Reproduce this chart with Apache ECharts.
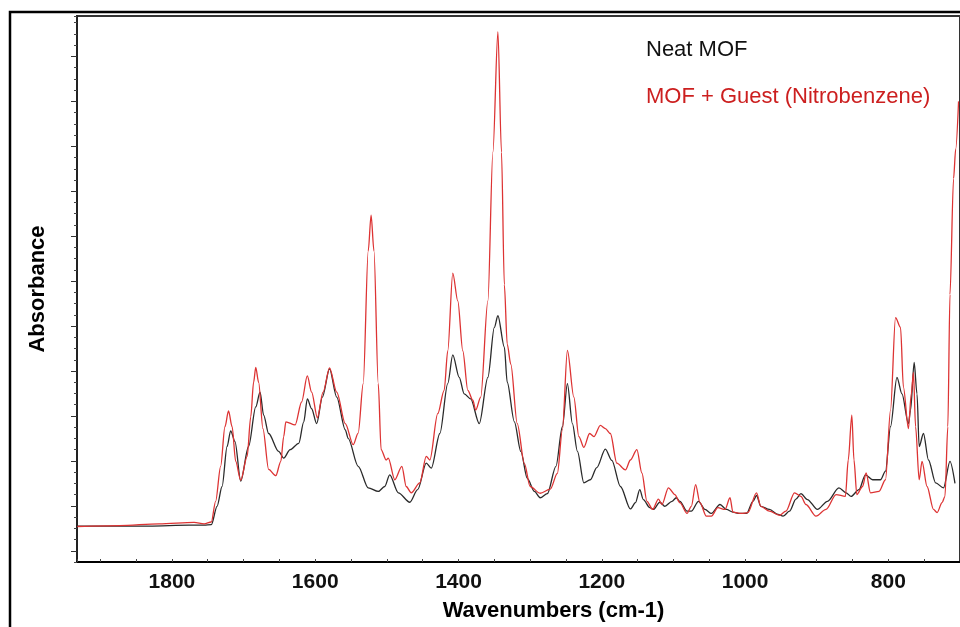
<!DOCTYPE html>
<html>
<head>
<meta charset="utf-8">
<script src="https://cdn.jsdelivr.net/npm/echarts@6/dist/echarts.min.js"></script>
<style>html,body{margin:0;padding:0;background:#fff;}#chart{width:960px;height:627px;}</style>
</head>
<body>
<div id="chart"></div>
<script>
// ---- data (wavenumber cm-1, absorbance arbitrary units) ----
var neatWn = [1932,1901,1832,1776,1755,1745,1737,1730,1723,1718,1712,1704,1693,1683,1677,1672,1665,1651,1644,1635,1623,1616,1611,1605,1598,1590,1580,1570,1558,1554,1540,1526,1512,1503,1496,1484,1468,1457,1445,1438,1426,1415,1408,1399,1392,1383,1371,1359,1350,1345,1336,1332,1322,1313,1304,1294,1286,1276,1264,1255,1248,1241,1234,1225,1216,1207,1195,1186,1174,1160,1153,1147,1142,1133,1128,1119,1112,1102,1096,1091,1081,1075,1065,1056,1047,1035,1026,1017,1008,998,989,984,978,966,954,947,938,929,922,913,899,885,869,859,852,841,832,822,811,804,797,788,781,772,769,764,760,757,751,744,734,723,714,707];
var neatAbs = [0.055,0.055,0.055,0.057,0.057,0.058,0.099,0.143,0.232,0.267,0.243,0.155,0.232,0.320,0.353,0.302,0.261,0.221,0.206,0.225,0.239,0.287,0.338,0.316,0.283,0.342,0.405,0.342,0.269,0.250,0.188,0.140,0.132,0.143,0.169,0.129,0.108,0.136,0.195,0.184,0.261,0.372,0.436,0.386,0.349,0.338,0.283,0.386,0.497,0.523,0.453,0.375,0.287,0.221,0.161,0.132,0.118,0.127,0.188,0.276,0.372,0.283,0.221,0.151,0.158,0.185,0.226,0.201,0.143,0.093,0.107,0.136,0.114,0.096,0.092,0.108,0.099,0.110,0.118,0.110,0.088,0.088,0.110,0.092,0.083,0.103,0.092,0.086,0.083,0.083,0.110,0.123,0.099,0.092,0.081,0.077,0.088,0.115,0.127,0.114,0.092,0.110,0.140,0.129,0.121,0.136,0.169,0.158,0.158,0.177,0.276,0.386,0.349,0.283,0.313,0.419,0.349,0.232,0.261,0.202,0.151,0.140,0.199,0.150];

var guestWn = [1932,1873,1818,1769,1755,1745,1739,1732,1726,1721,1716,1711,1704,1695,1690,1686,1683,1679,1673,1665,1655,1648,1644,1641,1628,1619,1611,1605,1597,1589,1580,1570,1558,1547,1540,1533,1526,1522,1518,1512,1508,1501,1498,1489,1479,1473,1466,1454,1445,1440,1429,1420,1415,1408,1401,1394,1387,1380,1376,1369,1359,1352,1345,1340,1336,1332,1327,1318,1308,1300,1286,1272,1262,1255,1248,1239,1232,1225,1217,1211,1202,1195,1188,1179,1167,1160,1151,1144,1137,1129,1121,1116,1107,1098,1091,1081,1075,1069,1063,1054,1047,1038,1028,1021,1017,1005,996,984,978,966,952,943,931,922,915,901,887,873,860,856,851,848,844,836,831,825,813,804,797,790,783,779,772,768,765,762,757,753,746,737,732,725,721,717,714,709,706,702];
var guestAbs = [0.054,0.056,0.060,0.063,0.060,0.064,0.110,0.188,0.276,0.311,0.276,0.199,0.157,0.210,0.298,0.375,0.408,0.375,0.272,0.181,0.167,0.199,0.254,0.287,0.280,0.331,0.389,0.353,0.296,0.353,0.407,0.353,0.283,0.236,0.262,0.372,0.667,0.747,0.667,0.372,0.225,0.202,0.206,0.158,0.188,0.143,0.129,0.151,0.210,0.202,0.305,0.357,0.445,0.618,0.556,0.445,0.357,0.335,0.313,0.342,0.556,0.887,1.155,0.887,0.592,0.460,0.415,0.283,0.194,0.143,0.128,0.137,0.172,0.269,0.446,0.342,0.254,0.230,0.261,0.254,0.279,0.272,0.261,0.195,0.180,0.202,0.225,0.173,0.110,0.092,0.115,0.103,0.140,0.125,0.107,0.083,0.099,0.147,0.107,0.077,0.077,0.096,0.092,0.118,0.086,0.083,0.085,0.129,0.099,0.088,0.079,0.088,0.129,0.121,0.103,0.077,0.092,0.125,0.121,0.202,0.302,0.202,0.125,0.143,0.173,0.129,0.132,0.158,0.313,0.519,0.497,0.364,0.272,0.349,0.397,0.276,0.158,0.199,0.143,0.092,0.085,0.107,0.121,0.276,0.570,0.828,0.894,1.000];

var xLabelTicks = [1800, 1600, 1400, 1200, 1000, 800];
var yMajorTicks = [0, 0.1, 0.2, 0.3, 0.4, 0.5, 0.6, 0.7, 0.8, 0.9, 1.0, 1.1];
var seriesNames = ['Neat MOF', 'MOF + Guest (Nitrobenzene)'];

function pairs(xs, ys) { return xs.map(function (x, i) { return [x, ys[i]]; }); }

var FONT = "'Liberation Sans', Arial, sans-serif";
var chart = echarts.init(document.getElementById('chart'), null, { renderer: 'canvas' });
chart.setOption({
  backgroundColor: '#fff',
  animation: false,
  graphic: [{
    type: 'rect', z: -10, silent: true,
    shape: { x: 10, y: 12, width: 1000, height: 700 },
    style: { fill: 'none', stroke: '#000', lineWidth: 2.5 }
  }],
  legend: {
    orient: 'vertical', left: 636, top: 34, itemGap: 25,
    icon: 'none', itemWidth: 0, itemHeight: 14,
    textStyle: { fontFamily: FONT, fontSize: 22 },
    data: [
      { name: seriesNames[0], textStyle: { color: '#111' } },
      { name: seriesNames[1], textStyle: { color: '#cc1f1f' } }
    ]
  },
  grid: { left: 77, top: 16, width: 888, height: 550, show: true, borderColor: '#333', borderWidth: 2 },
  xAxis: {
    type: 'value', inverse: true, min: 700, max: 1932.5, interval: 50,
    name: 'Wavenumbers (cm-1)', nameLocation: 'middle', nameGap: 38,
    nameTextStyle: { fontFamily: FONT, fontSize: 22, fontWeight: 'bold', color: '#000', padding: [0, 0, 0, 70] },
    axisLine: { show: true, onZero: false, lineStyle: { color: '#000', width: 2 } },
    axisTick: { show: true, inside: true, length: 3, lineStyle: { color: '#444' } },
    axisLabel: {
      customValues: xLabelTicks,
      formatter: function (v) { return (v % 200 === 0) ? String(v) : ''; },
      fontFamily: FONT, fontSize: 21, fontWeight: 'bold', color: '#111', margin: 10
    },
    splitLine: { show: false }
  },
  yAxis: [{
    type: 'value', min: -0.025, max: 1.19, interval: 0.025, position: 'left',
    name: 'Absorbance', nameLocation: 'middle', nameGap: 28,
    nameTextStyle: { fontFamily: FONT, fontSize: 22, fontWeight: 'bold', color: '#000' },
    axisLine: { show: true, onZero: false, lineStyle: { color: '#222', width: 2 } },
    axisTick: { show: true, inside: false, length: 3, lineStyle: { color: '#444' } },
    axisLabel: { show: false },
    splitLine: { show: false }
  }, {
    type: 'value', min: -0.025, max: 1.19, position: 'left', offset: 0,
    axisLine: { show: false, onZero: false },
    axisTick: { show: true, inside: false, length: 6, customValues: yMajorTicks, lineStyle: { color: '#333' } },
    axisLabel: { show: false },
    splitLine: { show: false }
  }],
  series: [{
    name: seriesNames[0], type: 'line', yAxisIndex: 0, data: pairs(neatWn, neatAbs),
    showSymbol: false, smooth: 0.3, smoothMonotone: 'x',
    lineStyle: { color: '#2a2a2a', width: 1.3 }, itemStyle: { color: '#2a2a2a' }
  }, {
    name: seriesNames[1], type: 'line', yAxisIndex: 0, data: pairs(guestWn, guestAbs),
    showSymbol: false, smooth: 0.3, smoothMonotone: 'x',
    lineStyle: { color: '#dd3333', width: 1.3 }, itemStyle: { color: '#dd3333' }
  }]
});
</script>
</body>
</html>
